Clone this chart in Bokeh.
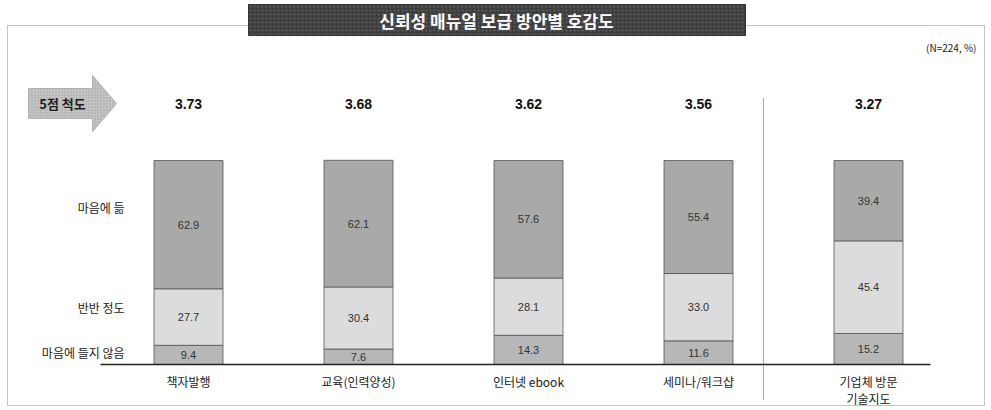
from bokeh.plotting import figure
from bokeh.models import Range1d, ColumnDataSource
from bokeh.core.properties import value
from bokeh.embed import file_html
from bokeh.resources import INLINE
import numpy as np

# ---- data ----
categories = ["책자발행", "교육(인력양성)", "인터넷 ebook", "세미나/워크샵", "기업체 방문\n기술지도"]
like = [62.9, 62.1, 57.6, 55.4, 39.4]
neutral = [27.7, 30.4, 28.1, 33.0, 45.4]
dislike = [9.4, 7.6, 14.3, 11.6, 15.2]
means = [3.73, 3.68, 3.62, 3.56, 3.27]
series_labels = ["마음에 듦", "반반 정도", "마음에 들지 않음"]
title = "신뢰성 매뉴얼 보급 방안별 호감도"
note = "(N=224, %)"
scale_label = "5점 척도"

# ---- layout helpers (pixel -> data) ----
W, H = 991, 410
X0PX, DXPX = 188.0, 170.0   # bar 0 centre, spacing in px
Y0PX, PXPCT = 364.0, 2.04   # baseline px, px per percent

def X(px):
    return (px - X0PX) / DXPX

def Y(py):
    return (Y0PX - py) / PXPCT

p = figure(width=W, height=H, x_range=Range1d(X(0), X(W)), y_range=Range1d(Y(H), Y(0)),
           toolbar_location=None, output_backend="svg",
           min_border=0, min_border_left=0, min_border_right=0,
           min_border_top=0, min_border_bottom=0)
p.axis.visible = False
p.grid.visible = False
p.outline_line_color = None
p.background_fill_color = "white"
p.border_fill_color = "white"

KR = value("Noto Sans CJK KR")
NUM = value("Liberation Sans")

# ---- outer dotted frame ----
p.line(x=[X(7), X(7), X(984), X(984), X(7)], y=[Y(25), Y(405), Y(405), Y(25), Y(25)],
       line_color="#8a8a8a", line_width=1, line_dash="1 1")

# ---- title box ----
p.quad(left=X(248), right=X(745), top=Y(4), bottom=Y(35), fill_color="#3e3e3e",
       line_color="#333333", hatch_pattern="dot", hatch_color="#5e5e5e", hatch_scale=4)
p.text(x=[X(496)], y=[Y(20)], text=[title], text_font=KR, text_font_size=value("17px"),
       text_font_style="bold", text_color="white", text_align="center", text_baseline="middle")

p.text(x=[X(976)], y=[Y(47)], text=[note], text_font=KR, text_font_size=value("10px"),
       text_color="#222222", text_align="right", text_baseline="middle")

# ---- arrow "5점 척도" ----
p.patch(x=[X(28), X(92), X(92), X(116), X(92), X(92), X(28)],
        y=[Y(88), Y(88), Y(75), Y(103), Y(131), Y(118), Y(118)],
        fill_color="#c4c4c4", line_color="#b0b0b0", line_width=1,
        hatch_pattern="dot", hatch_color="#a0a0a0", hatch_scale=3)
p.text(x=[X(62)], y=[Y(103)], text=[scale_label], text_font=KR, text_font_size=value("13px"),
       text_font_style="bold", text_color="#222222", text_align="center", text_baseline="middle")

# ---- stacked bars ----
idx = np.arange(len(categories), dtype=float)
d = np.array(dislike)
n = np.array(neutral)
l = np.array(like)
b0, t0 = np.zeros_like(d), d
b1, t1 = d, d + n
b2, t2 = d + n, d + n + l
bw = 69 / DXPX
colors = ["#b7b7b7", "#dcdcdc", "#a9a9a9"]
for (bb, tt, c, vals) in [(b0, t0, colors[0], dislike), (b1, t1, colors[1], neutral), (b2, t2, colors[2], like)]:
    src = ColumnDataSource(dict(x=idx, bottom=bb, top=tt, mid=(bb + tt) / 2,
                                lab=[f"{v:.1f}" for v in vals]))
    p.vbar(x="x", bottom="bottom", top="top", width=bw, source=src, fill_color=c,
           line_color="#555555", line_width=0.8)
    p.text(x="x", y="mid", text="lab", source=src, text_font=NUM, text_font_size=value("11px"),
           text_color="#333333", text_align="center", text_baseline="middle")

# ---- means ----
p.text(x=idx, y=[Y(103)] * len(means), text=[f"{m:.2f}" for m in means], text_font=NUM,
       text_font_size=value("14px"), text_font_style="bold", text_color="#111111",
       text_align="center", text_baseline="middle")

# ---- baseline and separator ----
p.line(x=[X(100), X(930)], y=[0, 0], line_color="#222222", line_width=1.5)
p.line(x=[X(763), X(763)], y=[Y(98), Y(400)], line_color="#555555", line_width=1, line_dash="1 1")

# ---- row labels ----
p.text(x=[X(124)] * 3, y=[Y(207), Y(307), Y(352)], text=series_labels, text_font=KR,
       text_font_size=value("12px"), text_color="#222222", text_align="right", text_baseline="middle")

# ---- category labels ----
cat_lines = [c.split("\n") for c in categories]
xs, ys, ts = [], [], []
for i, parts in enumerate(cat_lines):
    for j, part in enumerate(parts):
        xs.append(idx[i]); ys.append(Y(381 + 17 * j)); ts.append(part)
p.text(x=xs, y=ys, text=ts, text_font=KR, text_font_size=value("12px"), text_color="#222222",
       text_align="center", text_baseline="middle")

open("out.html", "w").write(file_html(p, INLINE))
